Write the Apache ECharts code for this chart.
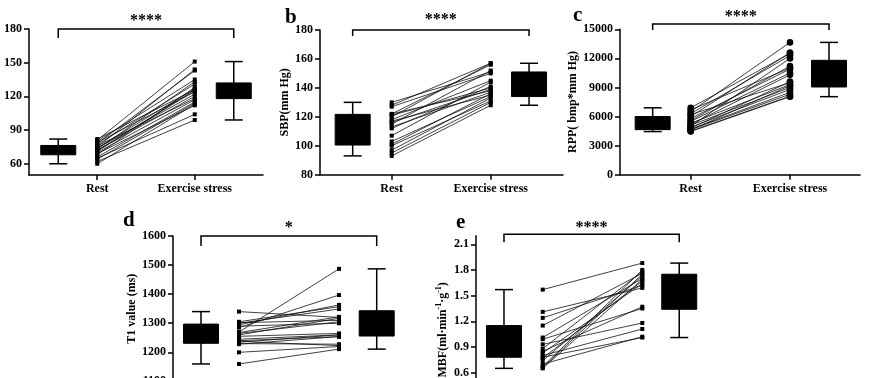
<!DOCTYPE html>
<html>
<head>
<meta charset="utf-8">
<script src="https://cdn.jsdelivr.net/npm/echarts@6/dist/echarts.min.js"></script>
<style>html,body{margin:0;padding:0;background:#fff}#c{width:869px;height:378px}</style>
</head>
<body>
<div id="c"></div>
<script>
// ---------- data ----------
const categories = ['Rest', 'Exercise stress'];

const hrRest = [82, 81, 80, 79, 78, 77, 76, 75, 74, 74, 73, 72, 72, 71, 70, 69, 68, 66, 65, 64, 62, 60];
const hrExer = [126, 151, 135, 124, 143, 131, 118, 144, 127, 122, 133, 120, 125, 126, 117, 112, 128, 115, 104, 114, 99, 113];
const hrRestBox = [60, 68, 72, 76.3, 82];
const hrExerBox = [99, 118, 126, 132, 151];
const hrTicks = [60, 90, 120, 150, 180];

const sbpRest = [130, 128, 127, 122, 122, 121, 120, 118, 117, 116, 115, 113, 112, 107, 103, 101, 100, 97, 95, 93];
const sbpExer = [151, 157, 150, 138, 156, 140, 157, 145, 135, 139, 152, 137, 141, 144, 134, 136, 131, 133, 130, 128];
const sbpRestBox = [93, 100.5, 112, 121.7, 130];
const sbpExerBox = [128, 134, 140, 151, 157];
const sbpTicks = [80, 100, 120, 140, 160, 180];

const rppRest = [6900, 6700, 6500, 6300, 6200, 6000, 5800, 5600, 5500, 5300, 5200, 5100, 5000, 4900, 4800, 4700, 4650, 4600, 4500, 4450];
const rppExer = [12500, 11000, 13650, 12300, 9500, 12600, 10900, 11200, 10500, 9300, 10300, 9000, 12000, 8800, 9600, 8500, 8300, 9200, 8100, 8050];
const rppRestBox = [4450, 4650, 5200, 6000, 6900];
const rppExerBox = [8050, 9050, 10500, 11800, 13650];
const rppTicks = [0, 3000, 6000, 9000, 12000, 15000];

const t1Rest = [1340, 1305, 1302, 1300, 1295, 1290, 1285, 1270, 1268, 1265, 1260, 1255, 1245, 1240, 1238, 1235, 1230, 1228, 1200, 1160];
const t1Exer = [1320, 1357, 1310, 1349, 1363, 1300, 1397, 1487, 1322, 1305, 1317, 1265, 1260, 1254, 1223, 1260, 1228, 1254, 1220, 1211];
const t1RestBox = [1160, 1231, 1265, 1297, 1340];
const t1ExerBox = [1211, 1256, 1305, 1343, 1487];
const t1Ticks = [1100, 1200, 1300, 1400, 1500, 1600];

const mbfRest = [1.57, 1.31, 1.24, 1.15, 1.01, 0.99, 0.93, 0.88, 0.85, 0.83, 0.80, 0.78, 0.77, 0.74, 0.70, 0.67, 0.66, 0.65];
const mbfExer = [1.88, 1.59, 1.62, 1.76, 1.70, 1.35, 1.18, 1.78, 1.37, 1.64, 1.11, 1.01, 1.67, 1.73, 1.02, 1.80, 1.75, 1.69];
const mbfRestBox = [0.65, 0.78, 0.9, 1.15, 1.57];
const mbfExerBox = [1.01, 1.34, 1.62, 1.75, 1.88];
const mbfTicks = [0, 0.3, 0.6, 0.9, 1.2, 1.5, 1.8, 2.1];

const sigLabels = ['****', '****', '****', '*', '****'];

// ---------- layout ----------
const FONT = 'Liberation Serif';
const panels = [
  {grid:{left:29, top:29, width:234, height:146}, x:[0.3,2.7], y:[50,180], ticks:hrTicks, name:'HR(bpm)', gap:24,
   boxX:[0.6,2.4], rest:hrRest, exer:hrExer, boxes:[hrRestBox,hrExerBox], bracket:180, tick:9, starGap:11, marker:'rect', fmt:v=>String(v)},
  {grid:{left:320, top:30, width:243, height:144.7}, x:[0.276,2.73], y:[80,180], ticks:sbpTicks, name:'SBP(mm Hg)', gap:23,
   boxX:[0.606,2.387], rest:sbpRest, exer:sbpExer, boxes:[sbpRestBox,sbpExerBox], bracket:180, tick:6, starGap:13, marker:'rect', fmt:v=>String(v)},
  {grid:{left:620, top:29.3, width:240, height:145.4}, x:[0.288,2.705], y:[0,15000], ticks:rppTicks, name:'RPP( bmp*mm Hg)', gap:32,
   boxX:[0.617,2.393], rest:rppRest, exer:rppExer, boxes:[rppRestBox,rppExerBox], bracket:15550, tick:6, starGap:10, marker:'circle', fmt:v=>String(v)},
  {grid:{left:173, top:236, width:236, height:145.4}, x:[0.34,2.7], y:[1100,1600], ticks:t1Ticks, name:'T1 value (ms)', gap:35,
   boxX:[0.62,2.377], rest:t1Rest, exer:t1Exer, boxes:[t1RestBox,t1ExerBox], bracket:1600, tick:10, starGap:11, marker:'rect', fmt:v=>String(v)},
  {grid:{left:476, top:235.7, width:236, height:188.3}, x:[0.33,2.7], y:[0,2.2], ticks:mbfTicks, name:'{a|MBF(ml·min}{s|-1}{a|·g}{s|-1}{a|)}', gap:25,
   boxX:[0.611,2.371], rest:mbfRest, exer:mbfExer, boxes:[mbfRestBox,mbfExerBox], bracket:2.216, tick:8, starGap:9, marker:'rect', fmt:v=>v.toFixed(1)}
];

const grids = [], xAxes = [], yAxes = [], series = [];
const lblStyle = {fontFamily: FONT, fontWeight: 'bold', fontSize: 12, color: '#000'};

panels.forEach((p, i) => {
  grids.push(Object.assign({containLabel: false, outerBoundsMode: 'none'}, p.grid));
  xAxes.push({
    type: 'value', gridIndex: i, min: p.x[0], max: p.x[1],
    splitLine: {show: false},
    axisLine: {show: true, onZero: false, lineStyle: {color: '#000', width: 1.5}},
    axisTick: {show: true, length: 5, customValues: [1, 2], lineStyle: {color: '#000', width: 1.5}},
    axisLabel: Object.assign({customValues: [1, 2], margin: 8, formatter: v => categories[Math.round(v) - 1]}, lblStyle)
  });
  yAxes.push({
    type: 'value', gridIndex: i, min: p.y[0], max: p.y[1],
    splitLine: {show: false},
    axisLine: {show: true, lineStyle: {color: '#000', width: 1.5}},
    axisTick: {show: true, length: 5, customValues: p.ticks, lineStyle: {color: '#000', width: 1.5}},
    axisLabel: Object.assign({customValues: p.ticks, margin: 7, formatter: p.fmt}, lblStyle),
    name: p.name, nameLocation: 'middle', nameGap: p.gap,
    nameTextStyle: Object.assign({}, lblStyle, {
      rich: {
        a: {fontFamily: FONT, fontWeight: 'bold', fontSize: 12, color: '#000', lineHeight: 16},
        s: {fontFamily: FONT, fontWeight: 'bold', fontSize: 8, color: '#000', lineHeight: 16, verticalAlign: 'top'}
      }
    })
  });

  // paired lines
  series.push({
    type: 'custom', xAxisIndex: i, yAxisIndex: i, clip: false,
    data: p.rest.map((r, k) => [r, p.exer[k]]),
    renderItem: (params, api) => {
      const a = api.coord([1, api.value(0)]);
      const b = api.coord([2, api.value(1)]);
      const ch = [{type: 'line', shape: {x1: a[0], y1: a[1], x2: b[0], y2: b[1]}, style: {stroke: '#111', lineWidth: 0.8}}];
      [a, b].forEach(pt => {
        if (p.marker === 'circle') ch.push({type: 'circle', shape: {cx: pt[0], cy: pt[1], r: 3.3}, style: {fill: '#000'}});
        else ch.push({type: 'rect', shape: {x: pt[0] - 2, y: pt[1] - 2, width: 4, height: 4}, style: {fill: '#000'}});
      });
      return {type: 'group', children: ch};
    }
  });

  // box plots
  series.push({
    type: 'custom', xAxisIndex: i, yAxisIndex: i, clip: false,
    data: p.boxes.map((bx, k) => [p.boxX[k]].concat(bx)),
    renderItem: (params, api) => {
      const x = api.coord([api.value(0), 0])[0];
      const yv = [1, 2, 3, 4, 5].map(d => api.coord([api.value(0), api.value(d)])[1]);
      const st = {stroke: '#000', lineWidth: 1.5};
      return {type: 'group', children: [
        {type: 'line', shape: {x1: x, y1: yv[4], x2: x, y2: yv[0]}, style: st},
        {type: 'line', shape: {x1: x - 9, y1: yv[4], x2: x + 9, y2: yv[4]}, style: st},
        {type: 'line', shape: {x1: x - 9, y1: yv[0], x2: x + 9, y2: yv[0]}, style: st},
        {type: 'rect', shape: {x: x - 17.5, y: yv[3], width: 35, height: yv[1] - yv[3]}, style: {fill: '#000', stroke: '#000', lineWidth: 1}}
      ]};
    }
  });

  // significance bracket
  series.push({
    type: 'custom', xAxisIndex: i, yAxisIndex: i, clip: false,
    data: [[p.boxX[0], p.boxX[1], p.bracket]],
    renderItem: (params, api) => {
      const l = api.coord([api.value(0), api.value(2)]);
      const r = api.coord([api.value(1), api.value(2)]);
      return {type: 'group', children: [
        {type: 'polyline', shape: {points: [[l[0], l[1] + p.tick], [l[0], l[1]], [r[0], r[1]], [r[0], r[1] + p.tick]]},
         style: {stroke: '#000', lineWidth: 1.5, fill: null}},
        {type: 'text', x: (l[0] + r[0]) / 2, y: l[1] - p.starGap + 11,
         style: {text: sigLabels[i], font: 'bold 16px ' + FONT, fill: '#000', align: 'center', verticalAlign: 'bottom'}}
      ]};
    }
  });
});

const chart = echarts.init(document.getElementById('c'), null, {renderer: 'canvas'});
chart.setOption({
  animation: false,
  grid: grids, xAxis: xAxes, yAxis: yAxes, series: series,
  graphic: [
    {type: 'text', left: 285, top: 7, style: {text: 'b', font: 'bold 21px ' + FONT, fill: '#000'}},
    {type: 'text', left: 573, top: 5, style: {text: 'c', font: 'bold 21px ' + FONT, fill: '#000'}},
    {type: 'text', left: 123, top: 210, style: {text: 'd', font: 'bold 21px ' + FONT, fill: '#000'}},
    {type: 'text', left: 456, top: 212, style: {text: 'e', font: 'bold 21px ' + FONT, fill: '#000'}}
  ]
});
</script>
</body>
</html>
